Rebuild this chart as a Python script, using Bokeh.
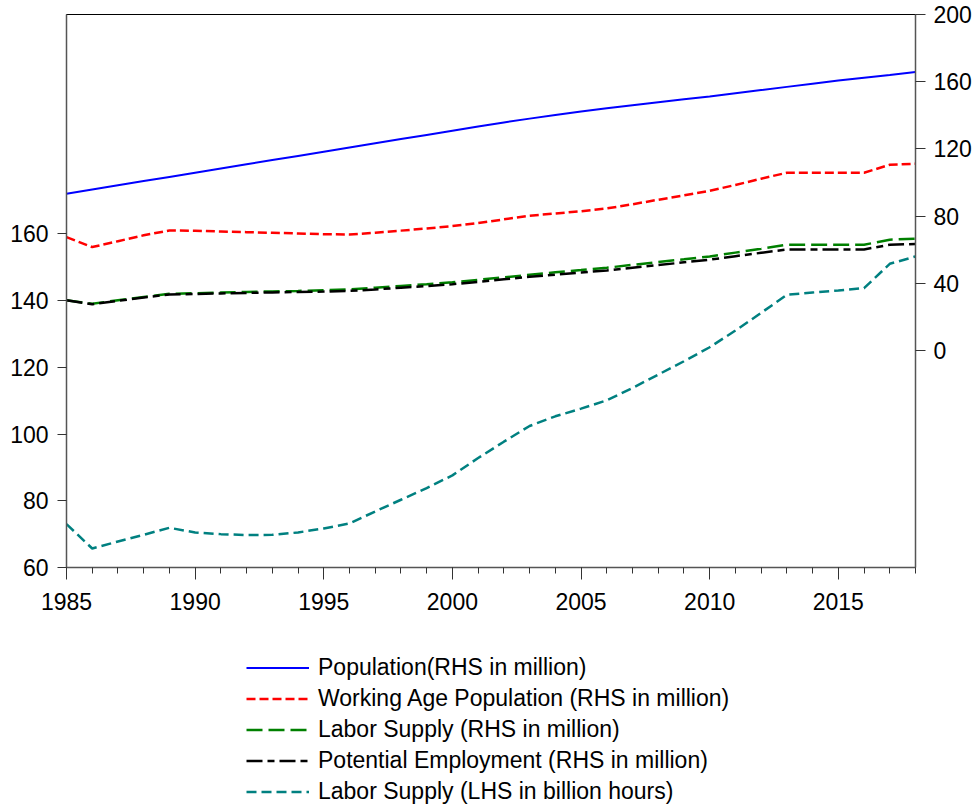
from bokeh.plotting import figure
from bokeh.layouts import column
from bokeh.models import (Range1d, LinearAxis, FixedTicker, SingleIntervalTicker,
                          Legend, LegendItem, ColumnDataSource)
from bokeh.embed import file_html
from bokeh.resources import INLINE

years = list(range(1985, 2019))

# RHS (million)
population = [93.3, 95.8, 98.3, 100.8, 103.3, 105.8, 108.3, 110.8, 113.3, 115.8,
              118.3, 120.8, 123.3, 125.8, 128.3, 130.8, 133.3, 135.7, 138.0, 140.2,
              142.3, 144.2, 146.0, 147.8, 149.5, 151.2, 153.1, 155.0, 156.9, 158.8,
              160.7, 162.4, 164.0, 165.7]
working_age = [67.4, 61.5, 65.0, 68.5, 71.4, 71.2, 70.8, 70.4, 70.0, 69.6,
               69.2, 69.0, 70.0, 71.3, 72.6, 74.0, 75.8, 78.0, 80.2, 81.5,
               82.8, 84.5, 87.0, 89.7, 92.3, 95.0, 98.5, 102.2, 105.8, 105.8,
               105.8, 105.8, 110.5, 111.1]
labor_supply_rhs = [29.8, 27.8, 29.8, 31.8, 33.7, 34.0, 34.4, 34.8, 35.1, 35.4,
                    35.8, 36.3, 37.3, 38.4, 39.4, 40.5, 42.0, 43.5, 45.0, 46.5,
                    47.8, 49.2, 50.9, 52.6, 54.2, 55.9, 58.2, 60.5, 62.9, 62.9,
                    62.9, 62.9, 65.9, 66.5]
potential_emp = [29.8, 27.5, 29.5, 31.5, 33.3, 33.6, 33.9, 34.2, 34.5, 34.8,
                 35.0, 35.4, 36.3, 37.3, 38.3, 39.4, 40.8, 42.3, 43.8, 45.1,
                 46.3, 47.6, 49.2, 50.8, 52.4, 54.0, 56.1, 58.1, 60.1, 60.1,
                 60.1, 60.1, 62.9, 63.3]
# LHS (billion hours)
labor_hours = [73.0, 65.7, 67.8, 69.8, 71.9, 70.5, 70.0, 69.7, 69.8, 70.5,
               71.7, 73.2, 76.8, 80.3, 83.8, 87.6, 92.8, 97.7, 102.4, 105.3,
               107.6, 110.1, 113.8, 117.8, 121.8, 126.0, 131.0, 136.3, 141.7, 142.4,
               143.0, 143.7, 151.0, 153.2]

left_ticks = [60, 80, 100, 120, 140, 160]
right_ticks = [0, 40, 80, 120, 160, 200]

labels = ["Population(RHS in million)",
          "Working Age Population (RHS in million)",
          "Labor Supply (RHS in million)",
          "Potential Employment (RHS in million)",
          "Labor Supply (LHS in billion hours)"]

src = ColumnDataSource(dict(year=years, pop=population, wap=working_age,
                            ls=labor_supply_rhs, pe=potential_emp, lh=labor_hours))

FONT = "Liberation Sans"
COLS = ["pop", "wap", "ls", "pe", "lh"]
STYLES = [dict(line_color="#0000FF", line_width=2),
          dict(line_color="#FF0000", line_width=2.5, line_dash="9 4"),
          dict(line_color="#008000", line_width=2.5, line_dash="16 6"),
          dict(line_color="#000000", line_width=2.5, line_dash="16 5 7 5"),
          dict(line_color="#008080", line_width=2.5, line_dash="10 5")]

H_MAIN = 617
p = figure(width=976, height=H_MAIN, output_backend="svg", toolbar_location=None,
           x_range=Range1d(1985, 2018), y_range=Range1d(60, 225.7),
           min_border_left=66, min_border_right=61, min_border_top=14,
           min_border_bottom=H_MAIN - 567)
p.extra_y_ranges = {"rhs": Range1d(-129.3, 200)}
p.xgrid.visible = False
p.ygrid.visible = False
p.outline_line_color = "black"
p.outline_line_width = 1
p.background_fill_color = "white"
p.border_fill_color = "white"

for i, c in enumerate(COLS):
    kw = dict(STYLES[i])
    if c != "lh":
        kw["y_range_name"] = "rhs"
    p.line("year", c, source=src, **kw)

def style_axis(ax):
    ax.axis_line_color = "#555555"
    ax.axis_line_width = 1.5
    ax.major_tick_line_color = "#333333"
    ax.minor_tick_line_color = "#333333"
    ax.major_label_text_font = FONT
    ax.major_label_text_font_size = "23px"
    ax.major_label_text_color = "black"
    ax.major_tick_in = 0
    ax.minor_tick_in = 0

xa = p.xaxis[0]
xa.ticker = SingleIntervalTicker(interval=5, num_minor_ticks=5)
style_axis(xa)
xa.major_tick_out = 12
xa.minor_tick_out = 6
xa.major_label_standoff = 13

ya = p.yaxis[0]
ya.ticker = FixedTicker(ticks=left_ticks)
style_axis(ya)
ya.major_tick_out = 9
ya.minor_tick_line_color = None
ya.major_label_standoff = 9

ra = LinearAxis(y_range_name="rhs", ticker=FixedTicker(ticks=right_ticks))
style_axis(ra)
ra.major_tick_out = 10
ra.minor_tick_line_color = None
ra.major_label_standoff = 8
p.add_layout(ra, "right")

# legend panel below the chart; its lines use the same data but lie outside its view
H_LEG = 807 - H_MAIN
lf = figure(width=976, height=H_LEG, output_backend="svg", toolbar_location=None,
            x_range=Range1d(0, 1), y_range=Range1d(0, 1),
            x_axis_type=None, y_axis_type=None, min_border=0)
lf.xgrid.visible = False
lf.ygrid.visible = False
lf.outline_line_color = None
lf.background_fill_color = "white"
lf.border_fill_color = "white"
swatches = [lf.line("year", c, source=src, **STYLES[i]) for i, c in enumerate(COLS)]

legend = Legend(items=[LegendItem(label=lab, renderers=[r])
                       for lab, r in zip(labels, swatches)],
                location=(180, 0), orientation="vertical")
legend.border_line_alpha = 0
legend.background_fill_alpha = 0
legend.padding = 0
legend.margin = 0
legend.spacing = 0
legend.glyph_width = 63
legend.glyph_height = 31
legend.label_height = 31
legend.label_standoff = 9
legend.label_text_font = FONT
legend.label_text_font_size = "23px"
legend.label_text_color = "black"
lf.add_layout(legend, "center")

layout = column(p, lf, spacing=0)
open("out.html", "w").write(file_html(layout, INLINE))
